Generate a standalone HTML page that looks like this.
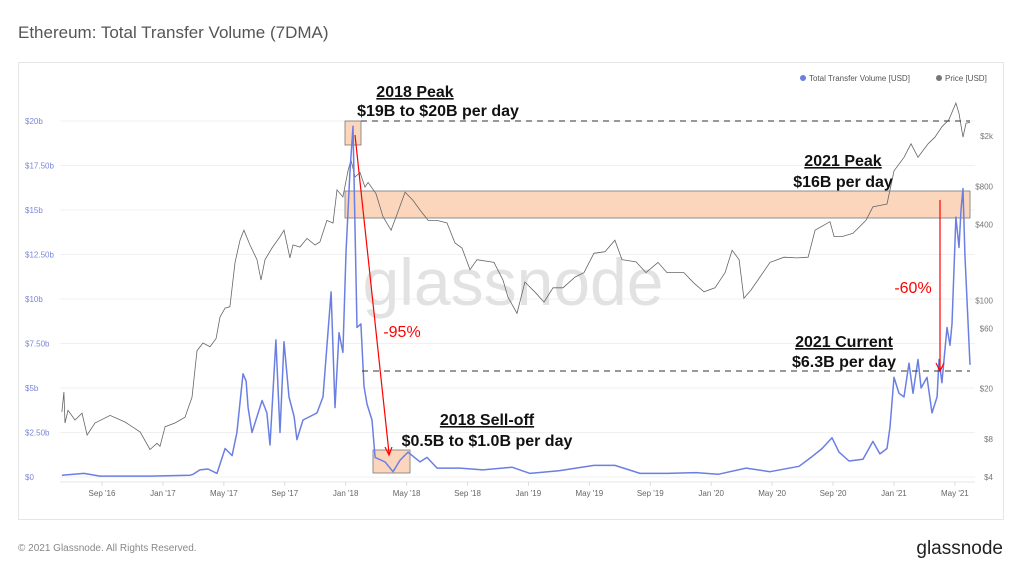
<!DOCTYPE html>
<html><head><meta charset="utf-8"><style>
body{margin:0;background:#fff;width:1024px;height:575px;overflow:hidden;font-family:"Liberation Sans",sans-serif}
svg{position:absolute;left:0;top:0}
</style></head><body>
<svg width="1024" height="575">
<text x="18" y="38" font-size="17" fill="#555">Ethereum: Total Transfer Volume (7DMA)</text>
<rect x="18.5" y="62.5" width="985" height="457" fill="none" stroke="#e6e6e6"/>
<g id="grid"></g>
<text x="513" y="305" font-size="66" fill="#e2e2e2" text-anchor="middle">glassnode</text>
<g id="ann-back">
<rect x="345" y="191" width="625" height="27" fill="#fbd6bd" stroke="#777" stroke-width="0.8"/>
<rect x="345" y="121" width="16" height="24" fill="#fbd6bd" stroke="#777" stroke-width="0.8"/>
<rect x="373" y="450" width="37" height="23" fill="#fbd6bd" stroke="#777" stroke-width="0.8"/>
</g>
<g id="axes"></g>
<g id="series"></g>
<g font-size="16" font-weight="bold" fill="#111" text-anchor="middle">
<line x1="361" y1="121" x2="970" y2="121" stroke="#333" stroke-dasharray="6,5"/>
<line x1="362" y1="371" x2="970" y2="371" stroke="#333" stroke-dasharray="6,5"/>
<line x1="355" y1="135" x2="389" y2="453" stroke="#f00" stroke-width="1.2"/>
<path d="M385,447 L389,455 L392,447" fill="none" stroke="#f00" stroke-width="1.2"/>
<line x1="940" y1="200" x2="940" y2="370" stroke="#f00" stroke-width="1.2"/>
<path d="M936,363 L940,371 L944,363" fill="none" stroke="#f00" stroke-width="1.2"/>
<text x="402" y="337" fill="#f00" font-weight="normal">-95%</text>
<text x="913" y="293" fill="#f00" font-weight="normal">-60%</text>
<text x="415" y="97" text-decoration="underline">2018 Peak</text>
<text x="438" y="116">$19B to $20B per day</text>
<text x="843" y="166" text-decoration="underline">2021 Peak</text>
<text x="843" y="187">$16B per day</text>
<text x="844" y="347" text-decoration="underline">2021 Current</text>
<text x="844" y="367">$6.3B per day</text>
<text x="487" y="425" text-decoration="underline">2018 Sell-off</text>
<text x="487" y="446">$0.5B to $1.0B per day</text>
</g>
<g font-size="8" fill="#555">
<circle cx="803" cy="78" r="3" fill="#6b7fe3"/><text x="809" y="81">Total Transfer Volume [USD]</text>
<circle cx="939" cy="78" r="3" fill="#777"/><text x="945" y="81">Price [USD]</text>
</g>
<text x="18" y="551" font-size="10" fill="#888">© 2021 Glassnode. All Rights Reserved.</text>
<text x="1003" y="554" font-size="19" fill="#222" text-anchor="end">glassnode</text>
</svg>
<script>
const volT=[5.37,6.82,7.87,11.15,13.78,13.98,14.43,14.96,15.55,16.08,16.54,16.86,17.26,17.46,17.59,17.85,18.51,18.83,19.03,19.42,19.69,19.95,20.28,20.61,20.8,21.2,21.66,22.12,22.51,23.04,23.3,23.56,23.82,24.02,24.28,24.48,24.74,25.0,25.2,25.4,25.73,25.93,26.58,27.11,27.57,28.09,28.88,29.34,30.0,31.51,33,34.92,36.1,38,40.3,41.68,43.33,45.1,47,48.45,50.29,51.86,53.77,54.55,55.28,55.93,56.39,57.05,57.97,58.62,59.08,59.54,59.74,60.0,60.33,60.66,60.99,61.25,61.58,61.78,62.17,62.5,62.83,62.96,63.15,63.48,63.68,63.81,64.07,64.27,64.4,64.53,64.66,64.99];
const volB=[0.1,0.2,0.05,0.05,0.1,0.15,0.4,0.45,0.2,1.6,1.2,2.5,5.8,5.4,3.9,2.5,4.3,3.6,1.8,7.7,2.5,7.6,4.5,3.4,2.1,3.2,3.4,3.6,4.5,10.4,3.9,8.1,7.0,12.6,17.1,19.7,8.4,8.6,5.1,4.1,3.2,1.1,0.85,0.3,0.95,1.4,0.85,1.1,0.5,0.5,0.4,0.55,0.2,0.35,0.65,0.65,0.2,0.2,0.25,0.15,0.5,0.3,0.6,1.1,1.6,2.2,1.4,0.9,1.0,2.0,1.3,1.6,2.8,5.6,4.7,4.5,6.4,4.7,6.6,5.0,5.6,3.6,4.5,6.6,5.3,8.4,7.4,8.6,14.6,12.9,15.0,16.2,12.5,6.3];
const priceT=[5.37,5.5,5.57,5.77,6.23,6.69,7.02,7.54,8.53,9.51,10.5,11.15,11.61,11.81,12.14,12.79,13.45,13.91,14.24,14.63,15.09,15.49,15.75,16.08,16.4,16.73,17.06,17.32,17.72,18.18,18.44,18.7,19.16,19.69,19.95,20.34,20.54,21.0,21.46,21.99,22.31,22.77,23.17,23.43,23.82,24.15,24.35,24.61,24.94,25.27,25.47,25.99,26.45,26.98,27.37,27.9,28.42,28.88,29.41,30.0,30.65,31.18,31.64,32.16,32.62,33.74,34.33,34.66,35.25,35.77,36.5,37.02,37.61,38.27,39.06,39.65,40.3,41.03,41.68,42.14,43.06,43.72,44.51,45.1,46.21,46.87,47.53,48.25,48.91,49.37,49.83,50.15,50.61,51.2,51.86,52.78,53.63,54.36,54.82,55.8,56.07,56.59,57.31,58.16,58.62,59.54,60.0,60.66,61.12,61.58,62.24,62.69,63.15,63.61,64.07,64.27,64.53,64.73,64.99];
const priceUSD=[13.1,18.8,10.7,13.5,11.3,12.8,8.6,10.7,12.3,10.9,9.1,6.6,7.4,7.0,10.0,10.7,11.9,17.1,40,46,43,50,74,87,89,199,300,360,275,210,145,210,260,320,360,217,275,265,310,275,290,430,410,750,660,1060,1300,950,1030,790,860,700,460,360,480,720,620,520,430,430,410,285,260,175,210,200,145,106,79,140,114,97,126,126,153,166,236,243,300,210,202,166,200,166,166,137,117,126,166,250,210,104,121,153,200,220,217,220,360,420,320,320,340,430,550,580,1060,1360,1740,1360,1740,1960,2370,2700,3650,3030,1960,2530,2570];
const xTickT=[8,12,16,20,24,28,32,36,40,44,48,52,56,60,64];
const xTickLabels=["Sep '16","Jan '17","May '17","Sep '17","Jan '18","May '18","Sep '18","Jan '19","May '19","Sep '19","Jan '20","May '20","Sep '20","Jan '21","May '21"];
const leftTicks=[0,2.5,5,7.5,10,12.5,15,17.5,20];
const leftTickLabels=["$0","$2.50b","$5b","$7.50b","$10b","$12.50b","$15b","$17.50b","$20b"];
const rightTicks=[4,8,20,60,100,400,800,2000];
const rightTickLabels=["$4","$8","$20","$60","$100","$400","$800","$2k"];

const NS="http://www.w3.org/2000/svg";
const xS=t=>102+(t-8)*15.23;
const yV=v=>477-v*17.8;
const yP=p=>477-126.3*Math.log10(p/4);
function mk(tag,attrs,parent){const e=document.createElementNS(NS,tag);for(const k in attrs)e.setAttribute(k,attrs[k]);parent.appendChild(e);return e;}
const grid=document.getElementById('grid'),axes=document.getElementById('axes'),series=document.getElementById('series');
leftTicks.forEach((v,i)=>{
  const l=mk('line',{x1:60,x2:975,y1:yV(v),y2:yV(v),stroke:'#f0f0f0'},grid);
  
  
  const t=mk('text',{x:25,y:yV(v)+3,'font-size':8,fill:'#7a86d8'},axes);
  t.textContent=leftTickLabels[i];
  
  
});
rightTicks.forEach((v,i)=>{
  const t=mk('text',{x:993,y:yP(v)+3,'font-size':8,fill:'#777','text-anchor':'end'},axes);
  t.textContent=rightTickLabels[i];
  
  
});
const ax=mk('line',{x1:60,x2:975,y1:482,y2:482,stroke:'#e6e6e6'},axes);


xTickT.forEach((t,i)=>{
  const tk=mk('line',{x1:xS(t),x2:xS(t),y1:482,y2:486,stroke:'#ddd'},axes);
  
  
  const lb=mk('text',{x:xS(t),y:496,'font-size':8,fill:'#666','text-anchor':'middle'},axes);
  lb.textContent=xTickLabels[i];
  
  
});
const pp=mk('path',{d:priceT.map((t,i)=>(i?'L':'M')+xS(t).toFixed(1)+','+yP(priceUSD[i]).toFixed(1)).join(''),fill:'none',stroke:'#666','stroke-width':0.8},series);


const vp=mk('path',{d:volT.map((t,i)=>(i?'L':'M')+xS(t).toFixed(1)+','+yV(volB[i]).toFixed(1)).join(''),fill:'none',stroke:'#6b7fe3','stroke-width':1.5,'stroke-linejoin':'round'},series);


</script>
</body></html>
